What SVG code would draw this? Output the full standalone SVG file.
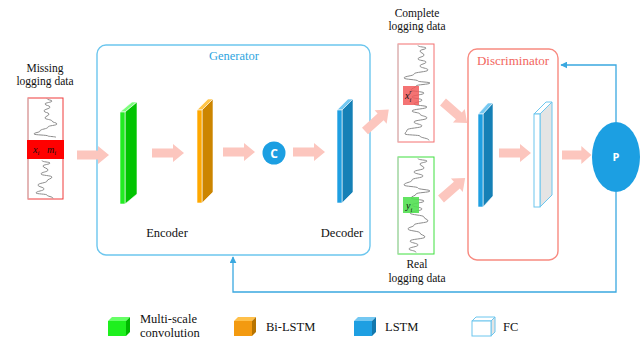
<svg xmlns="http://www.w3.org/2000/svg" width="644" height="342" viewBox="0 0 644 342">
  <style>
    .serif { font-family: "Liberation Serif", "Times New Roman", serif; fill: #111; }
    .lbl { font-size: 11.5px; text-anchor: middle; }
    .stage { font-size: 12.5px; text-anchor: middle; }
    .leg { font-size: 12.5px; }
    .flow { fill: #fcc6be; }
    .fb { fill: none; stroke: #3aa8e0; stroke-width: 1.3; }
    .curve { fill: none; stroke: #8c8c8c; stroke-width: 1; stroke-linejoin: round; stroke-linecap: round; }
    .edge { stroke: #fff; stroke-width: 0.6; }
    .math { font-family: "Liberation Serif", "Times New Roman", serif; font-style: italic; fill: #111; }
  </style>
  <defs>
    <!-- thick block arrow pointing right, tail at origin -->
    <path id="blockArrow" d="M0,-4.5 H21 V-9 L32,0 L21,9 V4.5 H0 Z"/>
    <marker id="tip" viewBox="0 0 10 10" refX="9" refY="5" markerWidth="7" markerHeight="7" orient="auto-start-reverse" markerUnits="userSpaceOnUse">
      <path d="M0,0 L10,5 L0,10 Z" fill="#3aa8e0"/>
    </marker>
  </defs>

  <rect width="644" height="342" fill="#fff"/>

  <!-- Input: missing logging data -->
  <g id="missing-data">
    <text class="serif lbl" x="45" y="72">Missing</text>
    <text class="serif lbl" x="45" y="85">logging data</text>
    <rect x="28" y="98" width="35" height="101" fill="#fff" stroke="#f03a3a" stroke-width="1"/>
    <line x1="28" y1="98" x2="28" y2="199" stroke="#d0d0d0" stroke-width="1"/>
    <path class="curve" d="M47,99 C47,100 52,100 52,101 C52,102.5 45,102.5 45,104 C45,105.5 50,105.5 50,107 C50,109 44,109 44,111 C44,112.5 49,112.5 49,114 C49,116 45,116 45,118 C45,119.5 52,119.5 52,121 C52,122.5 57,122.5 57,124 C57,125.5 48,125.5 48,127 C48,129 40,129 40,131 C40,132.5 34,132.5 34,134 C34,135 48,135 48,136 C48,136.5 56,136.5 56,137"/>
    <path class="curve" d="M42,161 C42,162 50,162 50,163 C50,164.5 43,164.5 43,166 C43,168 48,168 48,170 C48,172 41,172 41,174 C41,175.5 52,175.5 52,177 C52,179 47,179 47,181 C47,183 38,183 38,185 C38,187 44,187 44,189 C44,191 36,191 36,193 C36,194 47,194 47,195 C47,196.5 53,196.5 53,198"/>
    <rect x="27" y="140" width="37" height="19" fill="#ff0000"/>
    <text class="math" x="33" y="153" font-size="10">x<tspan font-size="6.5" dy="2">i</tspan></text>
    <text class="math" x="47" y="153" font-size="10">m<tspan font-size="6.5" dy="2">i</tspan></text>
  </g>

  <!-- Generator -->
  <g id="generator">
    <rect x="97" y="45" width="273" height="210" rx="9" fill="none" stroke="#6cc6ee" stroke-width="1.4"/>
    <text x="234" y="60" font-family="Liberation Serif, Times New Roman, serif" font-size="12.5" fill="#2ea5e0" text-anchor="middle">Generator</text>
    <text class="serif stage" x="167" y="237">Encoder</text>
    <text class="serif stage" x="342" y="237">Decoder</text>
  </g>

  <g id="multiscale-conv">
    <polygon points="120,112 132,102 137,102 125,112" fill="#7dff7d" class="edge"/>
    <polygon points="125,112 137,102 137,194 125,204" fill="#00c400" class="edge"/>
    <rect x="120" y="112" width="5" height="92" fill="#22ec22" class="edge"/>
  </g>

  <g id="bilstm">
    <polygon points="197,110 208,99 213,99 202,110" fill="#ffc54a" class="edge"/>
    <polygon points="202,110 213,99 213,192 202,203" fill="#cc8500" class="edge"/>
    <rect x="197" y="110" width="5" height="93" fill="#ffa800" class="edge"/>
  </g>

  <g id="concat">
    <circle cx="274" cy="153" r="11.5" fill="#1c9fe2"/>
    <text x="274" y="157.5" font-family="Open Sans, Liberation Sans, sans-serif" font-weight="bold" font-size="12" fill="#fff" text-anchor="middle">C</text>
  </g>

  <g id="decoder-lstm">
    <polygon points="337,110 348,99 353,99 342,110" fill="#74c8f2" class="edge"/>
    <polygon points="342,110 353,99 353,192 342,203" fill="#1580b6" class="edge"/>
    <rect x="337" y="110" width="5" height="93" fill="#1e9fe2" class="edge"/>
  </g>

  <!-- Generated and real data strips -->
  <g id="complete-data">
    <text class="serif lbl" x="417" y="17">Complete</text>
    <text class="serif lbl" x="417" y="30">logging data</text>
    <rect x="398" y="44" width="36" height="98" fill="#fff" stroke="#f47070" stroke-width="1"/>
    <line x1="398" y1="44" x2="398" y2="142" stroke="#d0d0d0" stroke-width="1"/>
    <path class="curve" d="M418,46 C418,47 426,47 426,48 C426,49.5 420,49.5 420,51 C420,53 424,53 424,55 C424,57 418,57 418,59 C418,60.5 426,60.5 426,62 C426,64 420,64 420,66 C420,68 428,68 428,70 C428,72 414,72 414,74 C414,76 404,76 404,78 C404,79.5 418,79.5 418,81 C418,82 430,82 430,83 C430,84.5 416,84.5 416,86 C416,88 411,88 411,90 C411,91.5 424,91.5 424,93 C424,95 412,95 412,97 C412,98.5 422,98.5 422,100 C422,102 414,102 414,104 C414,105.5 427,105.5 427,107 C427,109 412,109 412,111 C412,112.5 420,112.5 420,114 C420,116 427,116 427,118 C427,120 414,120 414,122 C414,124 422,124 422,126 C422,128 407,128 407,130 C407,132 405,132 405,134 C405,135 420,135 420,136 C420,138 429,138 429,140"/>
    <rect x="403" y="86" width="16" height="19" fill="#f25a5a" opacity="0.85"/>
    <text class="math" x="405" y="99" font-size="10">x<tspan font-size="6.5" dy="2.5">i</tspan><tspan font-size="6.5" dx="-2" dy="-8">r</tspan></text>
  </g>

  <g id="real-data">
    <rect x="398" y="157" width="36" height="97" fill="#fff" stroke="#3ee03e" stroke-width="1"/>
    <line x1="398" y1="157" x2="398" y2="254" stroke="#d0d0d0" stroke-width="1"/>
    <path class="curve" d="M418,159 C418,160 427,160 427,161 C427,162.5 420,162.5 420,164 C420,166 424,166 424,168 C424,170 414,170 414,172 C414,174 423,174 423,176 C423,178 412,178 412,180 C412,182.5 404,182.5 404,185 C404,186.5 418,186.5 418,188 C418,189.5 430,189.5 430,191 C430,192.5 416,192.5 416,194 C416,196 411,196 411,198 C411,199.5 424,199.5 424,201 C424,203 412,203 412,205 C412,207 422,207 422,209 C422,211 410,211 410,213 C410,215 424,215 424,217 C424,219 428,219 428,221 C428,223 414,223 414,225 C414,227 408,227 408,229 C408,231 420,231 420,233 C420,235 425,235 425,237 C425,239 410,239 410,241 C410,243 418,243 418,245 C418,247 409,247 409,249 C409,250.5 416,250.5 416,252"/>
    <rect x="403" y="197" width="16" height="16" fill="#52e052" opacity="0.9"/>
    <text class="math" x="406" y="209" font-size="10">y<tspan font-size="6.5" dy="2.5">i</tspan></text>
    <text class="serif lbl" x="417" y="268">Real</text>
    <text class="serif lbl" x="417" y="282">logging data</text>
  </g>

  <!-- Discriminator -->
  <g id="discriminator">
    <rect x="468" y="49" width="90" height="211" rx="9" fill="none" stroke="#f88a80" stroke-width="1.4"/>
    <text x="513" y="65" font-family="Liberation Serif, Times New Roman, serif" font-size="13" fill="#f2655d" text-anchor="middle">Discriminator</text>
  </g>

  <g id="disc-lstm">
    <polygon points="478,114 488,103 493,103 483,114" fill="#74c8f2" class="edge"/>
    <polygon points="483,114 493,103 493,196 483,207" fill="#1580b6" class="edge"/>
    <rect x="478" y="114" width="5" height="93" fill="#1e9fe2" class="edge"/>
  </g>

  <g id="fc">
    <polygon points="534,114 546,102 552,102 540,114" fill="#fff" stroke="#6cc6ee" stroke-width="1"/>
    <polygon points="540,114 552,102 552,195 540,207" fill="#e4e4e4" stroke="#6cc6ee" stroke-width="1"/>
    <rect x="534" y="114" width="6" height="93" fill="#fff" stroke="#6cc6ee" stroke-width="1"/>
  </g>

  <g id="probability">
    <ellipse cx="616" cy="157" rx="24" ry="35" fill="#1c9fe2"/>
    <text x="616" y="161" font-family="Open Sans, Liberation Sans, sans-serif" font-weight="bold" font-size="11" fill="#fff" text-anchor="middle">P</text>
  </g>

  <!-- Connectors -->
  <g id="connectors">
    <use href="#blockArrow" class="flow" transform="translate(77,155)"/>
    <use href="#blockArrow" class="flow" transform="translate(152,153)"/>
    <use href="#blockArrow" class="flow" transform="translate(223,152)"/>
    <use href="#blockArrow" class="flow" transform="translate(293,152)"/>
    <use href="#blockArrow" class="flow" transform="translate(365,131) rotate(-42)"/>
    <use href="#blockArrow" class="flow" transform="translate(443,102) rotate(41)"/>
    <use href="#blockArrow" class="flow" transform="translate(441,199) rotate(-41)"/>
    <use href="#blockArrow" class="flow" transform="translate(499,153)"/>
    <use href="#blockArrow" class="flow" transform="translate(562,155) scale(0.92,1)"/>
    <path class="fb" d="M616,192 V292 H233 V257" marker-end="url(#tip)"/>
    <path class="fb" d="M616,122 V65 H561" marker-end="url(#tip)"/>
  </g>

  <!-- Legend -->
  <g id="legend">
    <g id="legend-conv">
      <polygon points="108,321 112,317 130,317 126,321" fill="#66ff66"/>
      <polygon points="126,321 130,317 130,332 126,336" fill="#00b800"/>
      <rect x="108" y="321" width="18" height="15" fill="#1ef01e"/>
      <text class="serif leg" x="140" y="323">Multi-scale</text>
      <text class="serif leg" x="140" y="337">convolution</text>
    </g>
    <g id="legend-bilstm">
      <polygon points="234,321 238,317 256,317 252,321" fill="#ffc04a"/>
      <polygon points="252,321 256,317 256,332 252,336" fill="#b87400"/>
      <rect x="234" y="321" width="18" height="15" fill="#f39a10"/>
      <text class="serif leg" x="266" y="331">Bi-LSTM</text>
    </g>
    <g id="legend-lstm">
      <polygon points="354,321 358,317 376,317 372,321" fill="#74c8f2"/>
      <polygon points="372,321 376,317 376,332 372,336" fill="#1378ad"/>
      <rect x="354" y="321" width="18" height="15" fill="#1e9fe2"/>
      <text class="serif leg" x="385" y="331">LSTM</text>
    </g>
    <g id="legend-fc">
      <polygon points="472,321 476,317 495,317 491,321" fill="#fff" stroke="#6cc6ee" stroke-width="1"/>
      <polygon points="491,321 495,317 495,332 491,336" fill="#e4e4e4" stroke="#6cc6ee" stroke-width="1"/>
      <rect x="472" y="321" width="19" height="15" fill="#fff" stroke="#6cc6ee" stroke-width="1"/>
      <text class="serif leg" x="503" y="331">FC</text>
    </g>
  </g>
</svg>
